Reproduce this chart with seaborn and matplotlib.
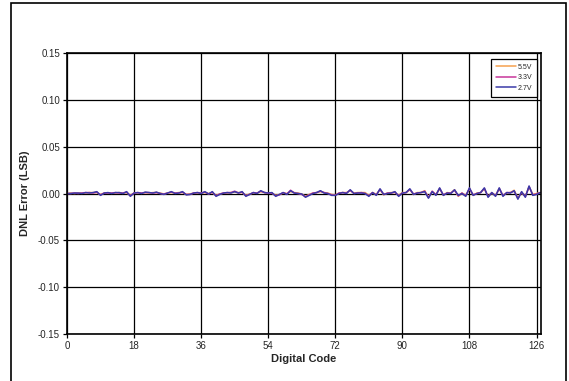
import numpy as np
import pandas as pd
import seaborn as sns
import matplotlib.pyplot as plt
from matplotlib.patches import Rectangle

# DNL error per digital code
codes = np.arange(128)

dnl_27 = [0, 0, 0.0005, 0.0005, 0, 0.001, 0.0005, 0.001, 0.002, -0.002,
          0.0005, 0.001, 0, 0.001, 0.001, 0, 0.002, -0.003, 0.0005, 0.001,
          0, 0.0015, 0.001, 0.0005, 0.0015, 0, -0.001, 0.0005, 0.002, 0,
          0.0005, 0.002, -0.0015, -0.001, 0.0005, 0.001, 0, 0.002, -0.0005, 0.002,
          -0.003, -0.001, 0.0005, 0.001, 0.0005, 0.002, 0.0005, 0.002, -0.003, -0.001,
          0.001, 0, 0.003, 0.001, 0.0005, 0.001, -0.003, -0.001, 0.001, -0.001,
          0.003, 0.0005, 0, -0.0005, -0.004, -0.002, 0, 0.001, 0.003, 0.0005,
          0, -0.002, -0.002, 0, 0.001, 0, 0.004, 0, 0.0005, 0.0005,
          0, -0.003, 0.001, -0.002, 0.005, -0.001, 0, 0.0005, 0.002, -0.003,
          0.0005, 0.001, 0.005, -0.001, 0.0005, 0.001, 0.002, -0.005, 0.002, -0.002,
          0.006, -0.002, 0.0005, 0, 0.004, -0.002, 0, -0.003, 0.006, -0.002,
          0, 0.001, 0.006, -0.004, 0.001, -0.003, 0.006, -0.003, 0.001, 0.0005,
          0.003, -0.006, 0.002, -0.004, 0.008, -0.002, -0.001, 0.001]

dnl_33 = [0, 0, 0.0005, 0, 0.0005, 0.001, 0.001, 0.0005, 0.0015, -0.0015,
          0.0005, 0.0005, 0.0005, 0.001, 0.0005, 0.0005, 0.0015, -0.0025, 0.0005, 0.001,
          0.0005, 0.001, 0.001, 0.0005, 0.001, 0, -0.0005, 0.0005, 0.0015, 0.0005,
          0.0005, 0.0015, -0.001, -0.001, 0.0005, 0.001, 0.0005, 0.0015, -0.0005, 0.0015,
          -0.0025, -0.0005, 0.0005, 0.001, 0.001, 0.0025, 0.0005, 0.0015, -0.0025, -0.001,
          0.001, 0.0005, 0.0025, 0.001, 0.0005, 0.0005, -0.0025, -0.0015, 0.001, -0.0005,
          0.0035, 0.0005, 0, -0.001, -0.0035, -0.0015, 0.0005, 0.001, 0.0025, 0.001,
          0, -0.0015, -0.002, 0.0005, 0.001, 0.0005, 0.0035, 0, 0.0005, 0.001,
          0, -0.0025, 0.001, -0.0015, 0.0045, -0.001, 0.0005, 0.0005, 0.0015, -0.0025,
          0.0005, 0.001, 0.0045, -0.0005, 0.0005, 0.001, 0.0025, -0.0045, 0.0025, -0.0015,
          0.0055, -0.0015, 0.0005, 0.0005, 0.0035, -0.0025, 0.0005, -0.0025, 0.0055, -0.0015,
          0, 0.001, 0.0055, -0.0035, 0.001, -0.0025, 0.0055, -0.0025, 0.001, 0.001,
          0.0025, -0.0055, 0.0015, -0.0035, 0.0075, -0.0015, -0.0005, 0.001]

dnl_55 = [0, 0.0005, 0, 0.0005, 0.0005, 0.0005, 0.001, 0.001, 0.001, -0.001,
          0.0005, 0.0005, 0.0005, 0.0005, 0.001, 0.0005, 0.001, -0.002, 0.0005, 0.0005,
          0.0005, 0.001, 0.0005, 0.001, 0.001, 0.0005, -0.0005, 0.0005, 0.001, 0.0005,
          0.001, 0.001, -0.001, -0.0005, 0.0005, 0.0005, 0.0005, 0.001, 0, 0.001,
          -0.002, -0.0005, 0.0005, 0.0005, 0.001, 0.0015, 0.001, 0.001, -0.002, -0.0005,
          0.0005, 0.0005, 0.002, 0.001, 0.0005, 0.0005, -0.002, -0.001, 0.0005, 0,
          0.002, 0.001, 0.0005, -0.0005, -0.003, -0.001, 0.0005, 0.001, 0.002, 0.001,
          0.0005, -0.001, -0.0015, 0.0005, 0.001, 0.001, 0.003, 0.0005, 0.001, 0.001,
          0.001, -0.002, 0.001, -0.001, 0.004, -0.0015, 0.0005, 0.001, 0.001, -0.002,
          0.001, 0.001, 0.004, -0.001, 0.001, 0.001, 0.003, -0.004, 0.002, -0.001,
          0.005, -0.002, 0.001, 0.0005, 0.004, -0.003, 0.0005, -0.002, 0.005, -0.002,
          0.0005, 0.001, 0.005, -0.003, 0.0005, -0.002, 0.005, -0.002, 0.0005, 0.001,
          0.0035, -0.005, 0.001, -0.003, 0.007, -0.001, 0, 0.001]

series = ['5.5V', '3.3V', '2.7V']
colors = ['#F5A04E', '#C8359A', '#3A3AA8']

df = pd.concat([
    pd.DataFrame({'code': codes, 'dnl': vals, 'supply': name})
    for name, vals in zip(series, [dnl_55, dnl_33, dnl_27])
])

sns.set_style('white')
plt.rcParams['font.family'] = ['Liberation Sans', 'DejaVu Sans']

fig = plt.figure(figsize=(5.69, 3.81), dpi=100)
ax = fig.add_axes([67 / 569, 47 / 381, 474 / 569, 281 / 381])

sns.lineplot(data=df, x='code', y='dnl', hue='supply', hue_order=series,
             palette=colors, linewidth=1.1, ax=ax)

ax.set_xlim(0, 127.2)
ax.set_ylim(-0.15, 0.15)
ax.set_xticks(np.arange(0, 127, 18))
ax.set_yticks(np.arange(-0.15, 0.151, 0.05))
ax.set_yticklabels([f'{v:.2f}' for v in np.arange(-0.15, 0.151, 0.05)])
ax.grid(True, color='black', linewidth=0.9)
ax.set_axisbelow(True)
for s in ax.spines.values():
    s.set_color('black')
    s.set_linewidth(1.2)
ax.tick_params(axis='both', direction='out', length=3, width=0.9,
               color='black', labelsize=7, pad=2, left=True, bottom=True)

ax.set_xlabel('Digital Code', fontsize=8, fontweight='bold', labelpad=2)
ax.set_ylabel('DNL Error (LSB)', fontsize=8, fontweight='bold', labelpad=6)

leg = ax.legend(loc='upper right', bbox_to_anchor=(0.992, 0.979), fontsize=5,
                frameon=True, fancybox=False, handlelength=2.8, borderaxespad=0,
                handletextpad=0.3, labelspacing=0.5, borderpad=0.7)
leg.get_frame().set_edgecolor('black')
leg.get_frame().set_linewidth(0.9)
leg.get_frame().set_alpha(1)

# outer border around the chart
fig.patches.append(Rectangle((11 / 569, -0.01), 555 / 569, 1 - 3 / 381 + 0.01,
                             transform=fig.transFigure, fill=False,
                             edgecolor='black', linewidth=1.2))

fig.savefig('out.png', dpi=100)
